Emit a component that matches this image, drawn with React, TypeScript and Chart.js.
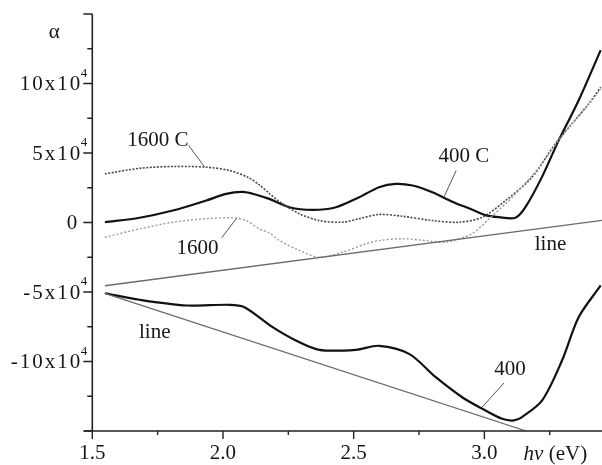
import { useEffect, useRef } from "react";
import { Chart, registerables } from "chart.js";

Chart.register(...registerables);

// Axis ranges (photon energy in eV, absorption in units of 10^4)
const X_MIN = 1.5;
const X_MAX = 3.45;
const Y_MIN = -15;
const Y_MAX = 15;

// Tick marks and labels
const xMajorTicks = [1.5, 2.0, 2.5, 3.0];
const xMinorTicks = [1.75, 2.25, 2.75, 3.25];
const xTickLabels = ["1.5", "2.0", "2.5", "3.0"];
const yMajorTicks = [15, 10, 5, 0, -5, -10, -15];
const yMinorTicks = [12.5, 7.5, 2.5, -2.5, -7.5, -12.5];
const yLabelValues = [10, 5, 0, -5, -10];
const yLabelMantissas = ["10x10", "5x10", "0", "-5x10", "-10x10"];
const yLabelExponents = ["4", "4", "", "4", "4"];

// Sample annealed at 400 C
const energy400C = [1.548, 1.681, 1.808, 1.936, 2.012, 2.076, 2.127, 2.177, 2.254, 2.343, 2.432, 2.521, 2.597, 2.661, 2.725, 2.801, 2.877, 2.95, 3.0, 3.055, 3.119, 3.157, 3.221, 3.284, 3.361, 3.445];
const alpha400C = [0.02, 0.34, 0.86, 1.58, 2.06, 2.2, 2.0, 1.7, 1.1, 0.91, 1.1, 1.82, 2.54, 2.78, 2.66, 2.18, 1.5, 0.95, 0.55, 0.38, 0.34, 1.1, 3.3, 5.9, 8.8, 12.4];

// Sample annealed at 1600 C
const energy1600C = [1.548, 1.681, 1.808, 1.936, 2.025, 2.101, 2.139, 2.177, 2.216, 2.292, 2.368, 2.457, 2.521, 2.597, 2.686, 2.801, 2.903, 2.992, 3.081, 3.182, 3.271, 3.335, 3.399, 3.445];
const alpha1600C = [3.5, 3.9, 4.03, 3.98, 3.74, 3.2, 2.7, 2.1, 1.5, 0.63, 0.14, 0.02, 0.27, 0.58, 0.45, 0.14, 0.02, 0.38, 1.58, 3.26, 5.66, 7.1, 8.54, 9.73];

// Sample 1600
const energy1600 = [1.548, 1.681, 1.808, 1.936, 2.037, 2.089, 2.139, 2.177, 2.216, 2.292, 2.368, 2.457, 2.547, 2.597, 2.686, 2.776, 2.852, 2.953, 3.017, 3.106, 3.208, 3.284, 3.335, 3.399, 3.445];
const alpha1600 = [-1.06, -0.46, 0.02, 0.27, 0.34, 0.14, -0.46, -0.75, -1.3, -2.01, -2.5, -2.14, -1.53, -1.3, -1.17, -1.3, -1.42, -0.8, 0.25, 1.8, 3.95, 5.9, 7.1, 8.5, 9.6];

// Sample 400
const energy400 = [1.548, 1.681, 1.86, 2.025, 2.082, 2.19, 2.279, 2.368, 2.508, 2.597, 2.712, 2.814, 2.915, 2.992, 3.068, 3.113, 3.144, 3.221, 3.297, 3.361, 3.445];
const alpha400 = [-5.09, -5.56, -5.97, -5.92, -6.09, -7.53, -8.49, -9.16, -9.16, -8.87, -9.45, -11.13, -12.57, -13.4, -14.12, -14.24, -14.0, -12.8, -9.93, -6.8, -4.53];

// Straight baselines
const upperLineEnergy = [1.548, 3.45];
const upperLineAlpha = [-4.55, 0.15];
const lowerLineEnergy = [1.548, 3.16];
const lowerLineAlpha = [-5.1, -15.0];

// Curve annotations: text, text centre, leader start, leader end (data units)
type Note = { text: string; at: [number, number]; from?: [number, number]; to?: [number, number] };
const notes: Note[] = [
  { text: "1600 C", at: [1.751, 5.9], from: [1.869, 5.54], to: [1.93, 3.98] },
  { text: "1600", at: [1.902, -1.9], from: [1.995, -1.1], to: [2.052, 0.3] },
  { text: "400 C", at: [2.922, 4.75], from: [2.892, 3.74], to: [2.846, 1.85] },
  { text: "line", at: [3.253, -1.55] },
  { text: "line", at: [1.739, -7.88] },
  { text: "400", at: [3.098, -10.6], from: [3.075, -11.54], to: [2.991, -13.3] },
];

const FONT = "'Liberation Serif', 'Times New Roman', serif";
const INK = "#161616";

const toPoints = (xs: number[], ys: number[]) => xs.map((x, i) => ({ x, y: ys[i] }));

const axesPlugin = {
  id: "axesAndNotes",
  afterDatasetsDraw(chart: any) {
    const { ctx, chartArea, scales } = chart;
    const xs = scales.x;
    const ys = scales.y;
    const { left, right, top, bottom } = chartArea;
    ctx.save();

    // axis lines
    ctx.strokeStyle = "#222";
    ctx.lineWidth = 1.6;
    ctx.beginPath();
    ctx.moveTo(left, top);
    ctx.lineTo(left, bottom);
    ctx.moveTo(left - 8, bottom);
    ctx.lineTo(right, bottom);
    ctx.stroke();

    // y ticks
    ctx.lineWidth = 1.4;
    ctx.beginPath();
    yMajorTicks.forEach((v) => {
      const p = ys.getPixelForValue(v);
      ctx.moveTo(left - 9, p);
      ctx.lineTo(left, p);
    });
    yMinorTicks.forEach((v) => {
      const p = ys.getPixelForValue(v);
      ctx.moveTo(left - 5, p);
      ctx.lineTo(left, p);
    });
    // x ticks
    xMajorTicks.forEach((v) => {
      const p = xs.getPixelForValue(v);
      ctx.moveTo(p, bottom);
      ctx.lineTo(p, bottom + 8);
    });
    xMinorTicks.forEach((v) => {
      const p = xs.getPixelForValue(v);
      ctx.moveTo(p, bottom);
      ctx.lineTo(p, bottom + 4);
    });
    ctx.stroke();

    ctx.fillStyle = INK;
    // x tick labels
    ctx.font = `21px ${FONT}`;
    ctx.textAlign = "center";
    ctx.textBaseline = "middle";
    xMajorTicks.forEach((v, i) => {
      ctx.fillText(xTickLabels[i], xs.getPixelForValue(v), bottom + 22);
    });

    // y tick labels with exponent
    yLabelValues.forEach((v, i) => {
      const p = ys.getPixelForValue(v) + 1;
      const exp = yLabelExponents[i];
      ctx.font = `21px ${FONT}`;
      ctx.textAlign = "right";
      ctx.textBaseline = "middle";
      if (exp) {
        (ctx as any).letterSpacing = "2px";
        ctx.fillText(yLabelMantissas[i], left - 10, p);
        (ctx as any).letterSpacing = "0px";
        ctx.font = `13px ${FONT}`;
        ctx.textAlign = "left";
        ctx.fillText(exp, left - 11.5, p - 11);
      } else {
        ctx.fillText(yLabelMantissas[i], left - 15, p);
      }
    });

    // axis titles
    ctx.font = `21px ${FONT}`;
    ctx.textAlign = "center";
    ctx.textBaseline = "middle";
    ctx.fillText("\u03b1", left - 38, top + 18);

    ctx.textAlign = "left";
    const hx = xs.getPixelForValue(3.15);
    ctx.font = `italic 21px ${FONT}`;
    ctx.fillText("h\u03bd", hx, bottom + 23);
    const w = ctx.measureText("h\u03bd").width;
    ctx.font = `21px ${FONT}`;
    ctx.fillText(" (eV)", hx + w, bottom + 23);

    // curve annotations
    ctx.strokeStyle = "#555";
    ctx.lineWidth = 1;
    notes.forEach((n) => {
      if (n.from && n.to) {
        ctx.beginPath();
        ctx.moveTo(xs.getPixelForValue(n.from[0]), ys.getPixelForValue(n.from[1]));
        ctx.lineTo(xs.getPixelForValue(n.to[0]), ys.getPixelForValue(n.to[1]));
        ctx.stroke();
      }
      ctx.font = `21px ${FONT}`;
      ctx.textAlign = "center";
      ctx.textBaseline = "middle";
      ctx.fillText(n.text, xs.getPixelForValue(n.at[0]), ys.getPixelForValue(n.at[1]));
    });

    ctx.restore();
  },
};

export default function App() {
  const canvasRef = useRef<HTMLCanvasElement | null>(null);

  useEffect(() => {
    if (!canvasRef.current) return;
    const chart = new Chart(canvasRef.current, {
      type: "line",
      data: {
        datasets: [
          {
            label: "line (upper)",
            data: toPoints(upperLineEnergy, upperLineAlpha),
            borderColor: "#6b6b6b",
            borderWidth: 1.3,
            tension: 0,
          },
          {
            label: "line (lower)",
            data: toPoints(lowerLineEnergy, lowerLineAlpha),
            borderColor: "#6b6b6b",
            borderWidth: 1.3,
            tension: 0,
          },
          {
            label: "1600",
            data: toPoints(energy1600, alpha1600),
            borderColor: "#9a9a9a",
            borderWidth: 1.4,
            borderDash: [2, 2],
            tension: 0.3,
          },
          {
            label: "1600 C",
            data: toPoints(energy1600C, alpha1600C),
            borderColor: "#4a4a4a",
            borderWidth: 1.6,
            borderDash: [2, 1.5],
            tension: 0.3,
          },
          {
            label: "400 C",
            data: toPoints(energy400C, alpha400C),
            borderColor: "#111",
            borderWidth: 2.2,
            tension: 0.3,
          },
          {
            label: "400",
            data: toPoints(energy400, alpha400),
            borderColor: "#111",
            borderWidth: 2.2,
            tension: 0.3,
          },
        ],
      },
      options: {
        responsive: false,
        animation: false,
        events: [],
        layout: { padding: { top: 14, right: 0, bottom: 0, left: 0 } },
        elements: { point: { radius: 0 } },
        plugins: { legend: { display: false }, tooltip: { enabled: false } },
        scales: {
          x: {
            type: "linear",
            min: X_MIN,
            max: X_MAX,
            ticks: { display: false },
            grid: { display: false, drawTicks: false },
            border: { display: false },
            afterFit: (s: any) => {
              s.height = 34;
            },
          },
          y: {
            type: "linear",
            min: Y_MIN,
            max: Y_MAX,
            ticks: { display: false },
            grid: { display: false, drawTicks: false },
            border: { display: false },
            afterFit: (s: any) => {
              s.width = 92.3;
            },
          },
        },
      },
      plugins: [axesPlugin],
    });
    return () => chart.destroy();
  }, []);

  return (
    <div style={{ position: "fixed", left: 0, top: 0, width: 602, height: 465, background: "#fff" }}>
      <canvas ref={canvasRef} width={602} height={465} style={{ display: "block" }} />
    </div>
  );
}
